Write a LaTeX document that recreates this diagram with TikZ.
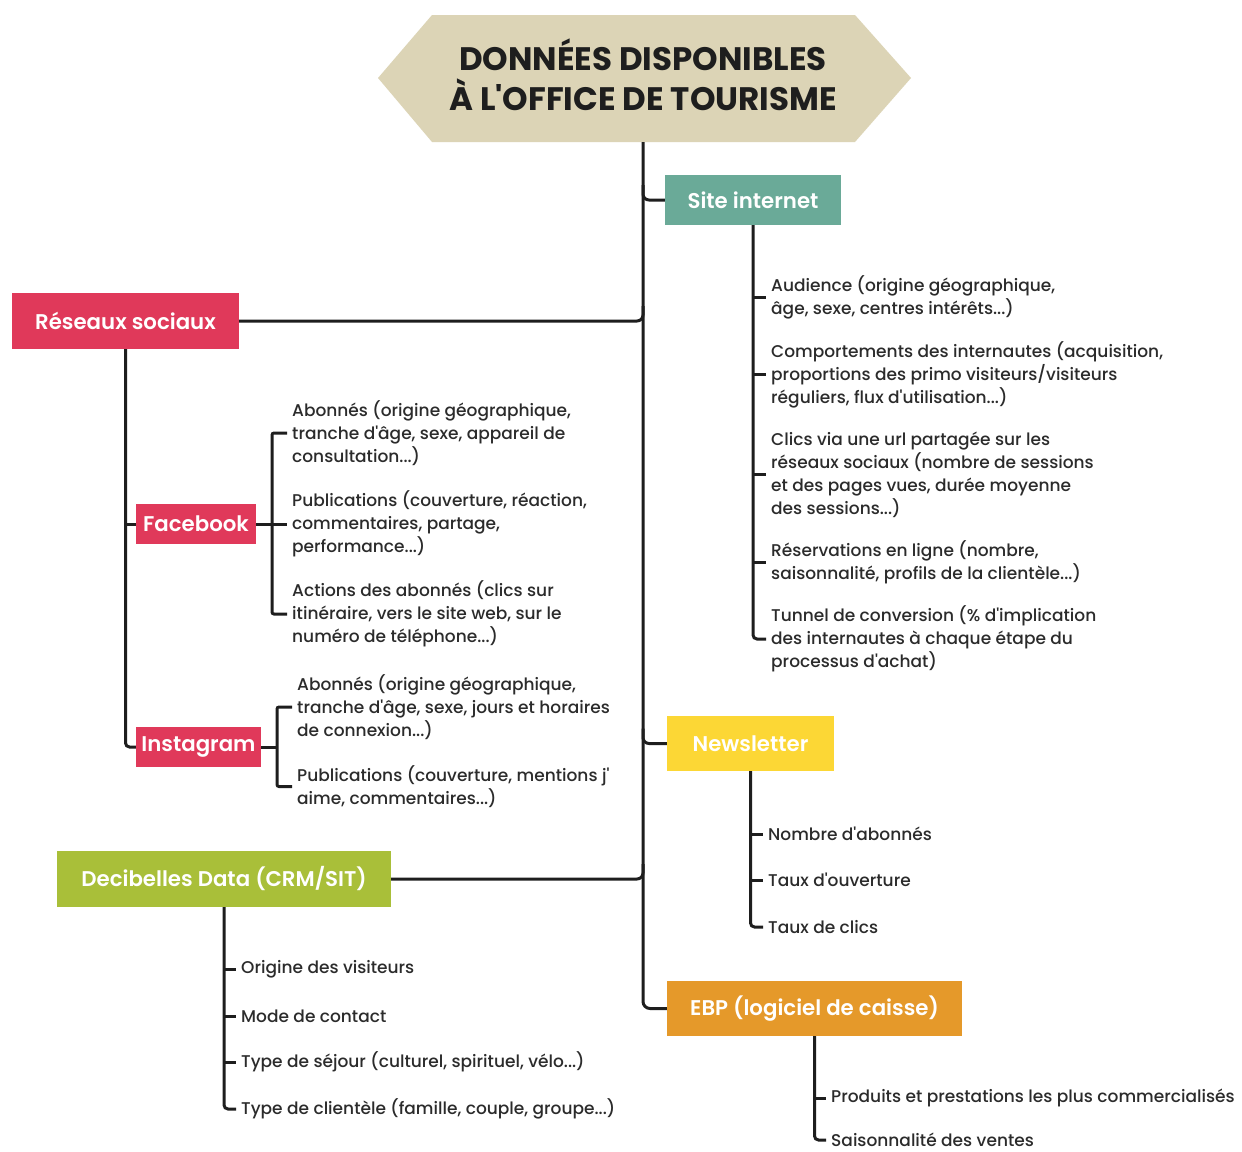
\documentclass[tikz,border=0pt]{standalone}
\usepackage{fontspec}
\setmainfont{Poppins}[Ligatures=TeXOff, UprightFont=* Medium, BoldFont=* SemiBold]
\newfontfamily\titlefont{Poppins}[Ligatures=TeXOff, UprightFont=* Bold]
\usetikzlibrary{calc}
\definecolor{hexc}{HTML}{DCD4B6}
\definecolor{teal}{HTML}{6AAA98}
\definecolor{rose}{HTML}{E0395A}
\definecolor{jaune}{HTML}{FCD735}
\definecolor{vert}{HTML}{A9BF39}
\definecolor{orange}{HTML}{E5992A}
\definecolor{ln}{HTML}{1E1E1E}
\definecolor{txt}{HTML}{2B2B2B}
\begin{document}
\begin{tikzpicture}[x=1pt,y=-1pt,
  box/.style={rectangle, inner sep=0pt, text=white, font=\fontsize{21.3}{25}\selectfont\bfseries},
  leaf/.style={anchor=west, align=left, inner sep=0pt, text=txt, font=\fontsize{17}{23}\selectfont},
  conn/.style={line width=3pt, draw=ln},
  tick/.style={conn, shorten >=5pt}]
\useasboundingbox (0,0) rectangle (1242,1151);
\fill[white] (0,0) rectangle (1242,1151);
% title hexagon
\fill[hexc] (378,78) -- (432,15) -- (855,15) -- (911,78) -- (855,142) -- (432,142) -- cycle;
\node[align=center, inner sep=0pt, text=ln, font=\fontsize{32.5}{40}\selectfont\titlefont] (title) at (643,75) {DONNÉES DISPONIBLES\\À L'OFFICE DE TOURISME};
\coordinate (hexb) at (643,142);
% category boxes
\node[box, fill=teal, minimum width=176pt, minimum height=50pt] (si) at (753,200) {Site internet};
\node[box, fill=rose, minimum width=227pt, minimum height=56pt] (rs) at (125.5,321) {Réseaux sociaux};
\node[box, fill=rose, minimum width=120pt, minimum height=40pt] (fb) at (196,524) {Facebook};
\node[box, fill=rose, minimum width=125pt, minimum height=40pt] (ig) at (198.5,747) {Instagram};
\node[box, fill=jaune, minimum width=167pt, minimum height=55pt] (nl) at (750.5,743.5) {Newsletter};
\node[box, fill=vert, minimum width=334pt, minimum height=56pt] (db) at (224,879) {Decibelles Data (CRM/SIT)};
\node[box, fill=orange, minimum width=295pt, minimum height=55pt] (ebp) at (814.5,1008.5) {EBP (logiciel de caisse)};
% leaves: site internet
\node[leaf] (a1) at (771,297.5) {Audience (origine géographique,\\âge, sexe, centres intérêts...)};
\node[leaf] (a2) at (771,374.5) {Comportements des internautes (acquisition,\\proportions des primo visiteurs/visiteurs\\réguliers, flux d'utilisation...)};
\node[leaf] (a3) at (771,474.5) {Clics via une url partagée sur les\\réseaux sociaux (nombre de sessions\\et des pages vues, durée moyenne\\des sessions...)};
\node[leaf] (a4) at (771,562.5) {Réservations en ligne (nombre,\\saisonnalité, profils de la clientèle...)};
\node[leaf] (a5) at (771,639) {Tunnel de conversion (\% d'implication\\des internautes à chaque étape du\\processus d'achat)};
% leaves: facebook
\node[leaf] (f1) at (292,433) {Abonnés (origine géographique,\\tranche d'âge, sexe, appareil de\\consultation...)};
\node[leaf] (f2) at (292,524) {Publications (couverture, réaction,\\commentaires, partage,\\performance...)};
\node[leaf] (f3) at (292,614) {Actions des abonnés (clics sur\\itinéraire, vers le site web, sur le\\numéro de téléphone...)};
% leaves: instagram
\node[leaf] (i1) at (297,707) {Abonnés (origine géographique,\\tranche d'âge, sexe, jours et horaires\\de connexion...)};
\node[leaf] (i2) at (297,786.5) {Publications (couverture, mentions j'\\aime, commentaires...)};
% leaves: decibelles
\node[leaf] (d1) at (241,969) {Origine des visiteurs};
\node[leaf] (d2) at (241,1016) {Mode de contact};
\node[leaf] (d3) at (241,1062) {Type de séjour (culturel, spirituel, vélo...)};
\node[leaf] (d4) at (241,1109) {Type de clientèle (famille, couple, groupe...)};
% leaves: newsletter
\node[leaf] (n1) at (768,834) {Nombre d'abonnés};
\node[leaf] (n2) at (768,880) {Taux d'ouverture};
\node[leaf] (n3) at (768,927) {Taux de clics};
% leaves: ebp
\node[leaf] (e1) at (831,1098) {Produits et prestations les plus commercialisés};
\node[leaf] (e2) at (831,1140) {Saisonnalité des ventes};
% trunk
\draw[conn, rounded corners=7pt] (hexb) |- (ebp.west);
\draw[conn, rounded corners=6pt] ($(hexb|-si.west)+(0,-15)$) -- (hexb|-si.west) -- (si.west);
\draw[conn, rounded corners=6pt] (rs.east) -- (hexb|-rs.east) -- ++(0,-15);
\draw[conn, rounded corners=6pt] ($(hexb|-nl.west)+(0,-15)$) -- (hexb|-nl.west) -- (nl.west);
\draw[conn, rounded corners=6pt] (db.east) -- (hexb|-db.east) -- ++(0,-15);
% site internet spine
\draw[conn, rounded corners=4pt] (si.south) |- ([xshift=-5pt]a5.west);
\foreach \n in {a1,a2,a3,a4} \draw[tick] (si.south|-\n.west) -- (\n.west);
% reseaux spine
\draw[conn, rounded corners=4pt] (rs.south) |- (ig.west);
\draw[conn] (rs.south|-fb.west) -- (fb.west);
% facebook bracket
\coordinate (fbx) at (272,524);
\draw[conn] (fb.east) -- (fbx);
\draw[conn, rounded corners=2pt] ([xshift=-5pt]f1.west) -| (fbx) |- ([xshift=-5pt]f3.west);
\draw[tick] (fbx|-f2.west) -- (f2.west);
% instagram bracket
\coordinate (igx) at (277,747);
\draw[conn] (ig.east) -- (igx);
\draw[conn, rounded corners=2pt] ([xshift=-5pt]i1.west) -| (igx) |- ([xshift=-5pt]i2.west);
% decibelles spine
\draw[conn, rounded corners=4pt] (db.south) |- ([xshift=-5pt]d4.west);
\foreach \n in {d1,d2,d3} \draw[tick] (db.south|-\n.west) -- (\n.west);
% newsletter spine
\draw[conn, rounded corners=4pt] (nl.south) |- ([xshift=-5pt]n3.west);
\foreach \n in {n1,n2} \draw[tick] (nl.south|-\n.west) -- (\n.west);
% ebp spine
\draw[conn, rounded corners=4pt] (ebp.south) |- ([xshift=-5pt]e2.west);
\draw[tick] (ebp.south|-e1.west) -- (e1.west);
\end{tikzpicture}
\end{document}
